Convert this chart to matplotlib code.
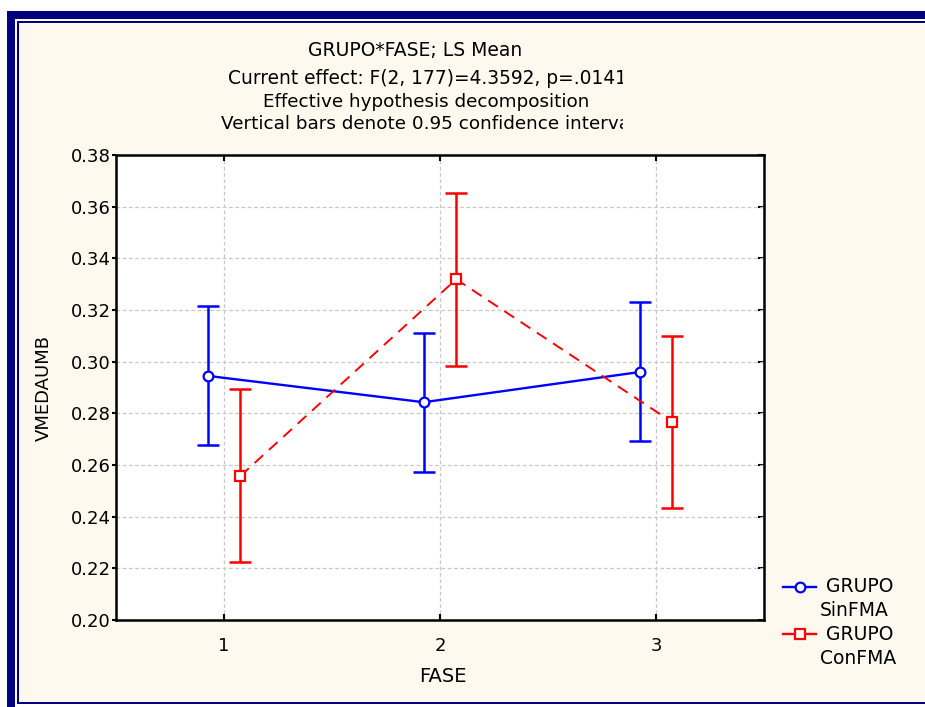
import matplotlib.pyplot as plt
from matplotlib.patches import Rectangle
from matplotlib.lines import Line2D
import numpy as np

plt.rcParams['font.family'] = ['DejaVu Sans']

fase = [1, 2, 3]
fase_labels = ['1', '2', '3']

# LS means and 0.95 confidence limits per group
sin_mean = [0.2945, 0.2843, 0.2960]
sin_low = [0.2676, 0.2573, 0.2693]
sin_high = [0.3216, 0.3110, 0.3231]

con_mean = [0.2557, 0.3319, 0.2766]
con_low = [0.2225, 0.2984, 0.2434]
con_high = [0.2893, 0.3652, 0.3099]

yticks = [0.20, 0.22, 0.24, 0.26, 0.28, 0.30, 0.32, 0.34, 0.36, 0.38]

W, H = 925, 707
navy = '#000080'
cream = '#fdf9ee'
blue = '#0000ff'
red = '#ff0000'
fs = 13

fig = plt.figure(figsize=(W / 100, H / 100), dpi=100, facecolor='white')


def px_rect(x0, y0, x1, y1, color, z=-5):
    # rectangle in pixel units, origin top-left
    fig.patches.append(Rectangle((x0 / W, 1 - y1 / H), (x1 - x0) / W, (y1 - y0) / H,
                                 transform=fig.transFigure, facecolor=color,
                                 edgecolor='none', zorder=z))


# window frame
px_rect(19, 23, W, 702, cream)
px_rect(7, 11, W, 19, navy)
px_rect(7, 11, 15, H, navy)
px_rect(17, 21, W, 23, navy)
px_rect(17, 21, 19, 704, navy)
px_rect(17, 702, W, 704, navy)

ax = fig.add_axes([116 / W, (H - 620) / H, 648 / W, 465 / H])
ax.set_facecolor('white')

off = 0.075
xs = np.array(fase) - off
xc = np.array(fase) + off

ax.errorbar(xs, sin_mean,
            yerr=[np.array(sin_mean) - np.array(sin_low), np.array(sin_high) - np.array(sin_mean)],
            fmt='none', ecolor=blue, elinewidth=1.8, capsize=8, capthick=1.8, zorder=3)
ax.errorbar(xc, con_mean,
            yerr=[np.array(con_mean) - np.array(con_low), np.array(con_high) - np.array(con_mean)],
            fmt='none', ecolor=red, elinewidth=1.8, capsize=8, capthick=1.8, zorder=3)

ax.plot(xs, sin_mean, color=blue, lw=1.7, marker='o', ms=7, mfc='white',
        mec=blue, mew=1.6, zorder=4)
ax.plot(xc, con_mean, color=red, lw=1.4, ls=(0, (6, 4)), marker='s', ms=7,
        mfc='white', mec=red, mew=1.6, zorder=4)

ax.set_xlim(0.5, 3.5)
ax.set_ylim(0.20, 0.38)
ax.set_xticks(fase)
ax.set_xticklabels(fase_labels)
ax.set_yticks(yticks)
ax.set_yticklabels(['%.2f' % v for v in yticks])
ax.grid(True, color='#c8c8c8', ls=(0, (3, 2)), lw=0.9)
ax.set_axisbelow(True)

for s in ax.spines.values():
    s.set_linewidth(1.8)
    s.set_color('black')

ax.tick_params(axis='x', direction='in', top=True, length=4, width=1.5,
               labelsize=fs, pad=12)
ax.tick_params(axis='y', direction='out', length=3, width=1.5,
               labelsize=fs, pad=1)

# right-side y ticks point inward
rt = ax.secondary_yaxis('right')
rt.set_yticks(yticks)
rt.set_yticklabels([])
rt.tick_params(direction='in', length=4, width=1.5)
rt.spines['right'].set_visible(False)

fig.text(44 / W, 1 - 388 / H, 'VMEDAUMB', rotation=90, ha='center', va='center',
         fontsize=fs)
fig.text(443 / W, 1 - 677 / H, 'FASE', ha='center', va='center', fontsize=14)

fig.text(415 / W, 1 - 50 / H, 'GRUPO*FASE; LS Mean', ha='center', va='center',
         fontsize=13.5)
fig.text(228 / W, 1 - 79 / H, 'Current effect: F(2, 177)=4.3592, p=.0141',
         ha='left', va='center', fontsize=13.4)
fig.text(426 / W, 1 - 102 / H, 'Effective hypothesis decomposition', ha='center',
         va='center', fontsize=13.2)
fig.text(221 / W, 1 - 124 / H, 'Vertical bars denote 0.95 confidence intervals',
         ha='left', va='center', fontsize=13.2)
# header text box is cut off on the right
px_rect(623, 62, 780, 140, cream, z=10)

# legend
for yy, col, mk, l1, l2 in [(587, blue, 'o', 'GRUPO', 'SinFMA'),
                            (634, red, 's', 'GRUPO', 'ConFMA')]:
    fig.add_artist(Line2D([783 / W, 816 / W], [1 - yy / H, 1 - yy / H],
                          transform=fig.transFigure, color=col, lw=1.7))
    fig.add_artist(Line2D([799.5 / W], [1 - yy / H], transform=fig.transFigure,
                          marker=mk, ms=7, mfc='white', mec=col, mew=1.6, ls='none'))
    fig.text(826 / W, 1 - yy / H, l1, ha='left', va='center', fontsize=13.5)
    fig.text(820 / W, 1 - (yy + 24) / H, l2, ha='left', va='center', fontsize=13.5)

fig.savefig('out.png', dpi=100, facecolor='white')
